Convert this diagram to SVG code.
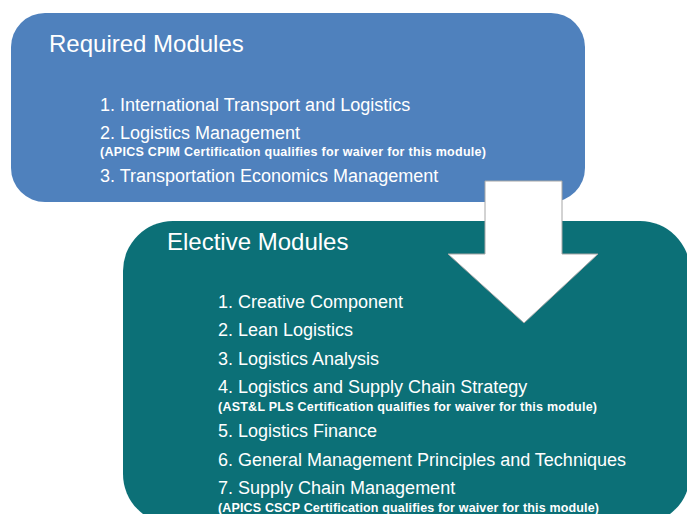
<svg xmlns="http://www.w3.org/2000/svg" width="687" height="514" viewBox="0 0 687 514">
<style>
text { font-family: "Liberation Sans", Arial, sans-serif; fill: #ffffff; }
.title { font-size: 24px; }
.item { font-size: 18px; }
.note { font-size: 12.5px; font-weight: bold; }
</style>
<rect width="687" height="514" fill="#ffffff"/>
<g id="required">
  <rect x="11" y="13" width="574" height="189" rx="34" ry="34" fill="#4F81BD"/>
  <text class="title" x="49" y="52">Required Modules</text>
  <text class="item" x="100" y="111">1. International Transport and Logistics</text>
  <text class="item" x="100" y="139">2. Logistics Management</text>
  <text class="note" x="100" y="156" textLength="386" lengthAdjust="spacing">(APICS CPIM Certification qualifies for waiver for this module)</text>
  <text class="item" x="100" y="182">3. Transportation Economics Management</text>
</g>
<g id="elective">
  <rect x="123" y="221" width="567" height="303" rx="50" ry="50" fill="#0C7077"/>
  <text class="title" x="167" y="250">Elective Modules</text>
  <text class="item" x="218" y="308">1. Creative Component</text>
  <text class="item" x="218" y="336">2. Lean Logistics</text>
  <text class="item" x="218" y="365">3. Logistics Analysis</text>
  <text class="item" x="218" y="393">4. Logistics and Supply Chain Strategy</text>
  <text class="note" x="218" y="410.5" textLength="379" lengthAdjust="spacing">(AST&amp;L PLS Certification qualifies for waiver for this module)</text>
  <text class="item" x="218" y="437">5. Logistics Finance</text>
  <text class="item" x="218" y="466">6. General Management Principles and Techniques</text>
  <text class="item" x="218" y="493.5">7. Supply Chain Management</text>
  <text class="note" x="218" y="511.5" textLength="381" lengthAdjust="spacing">(APICS CSCP Certification qualifies for waiver for this module)</text>
</g>
<g id="connectors">
  <polygon points="485,181 562,181 562,254 598,254 524,323 448,254 485,254" fill="#ffffff" stroke="#a6a6a6" stroke-width="1"/>
</g>
</svg>
